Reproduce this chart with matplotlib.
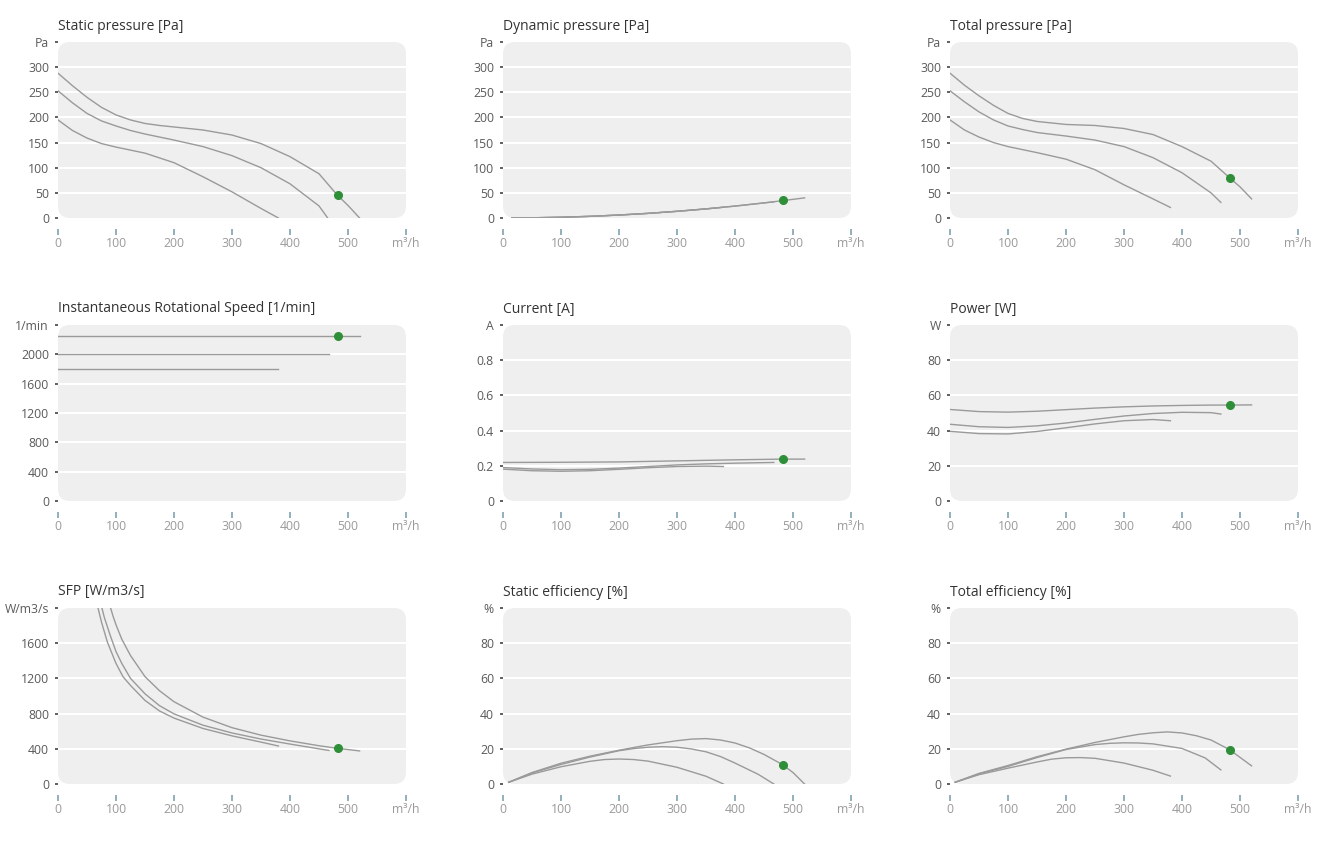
import matplotlib
matplotlib.use("Agg")
import matplotlib.pyplot as plt
from matplotlib.patches import FancyBboxPatch

plt.rcParams['font.family'] = ['Open Sans', 'DejaVu Sans']

# flow at the operating point (m3/h)
op_q = 482

# static pressure [Pa]
sp_hi_q = [0, 25, 50, 75, 100, 125, 150, 175, 200, 250, 300, 350, 400, 450, 482, 500, 520]
sp_hi_v = [288, 263, 240, 220, 205, 195, 188, 184, 181, 175, 165, 148, 122, 88, 45, 25, 0]
sp_mid_q = [0, 25, 50, 75, 100, 125, 150, 200, 250, 300, 350, 400, 450, 465]
sp_mid_v = [253, 229, 208, 193, 183, 174, 167, 155, 142, 124, 100, 68, 24, 0]
sp_lo_q = [0, 25, 50, 75, 100, 125, 150, 200, 250, 300, 350, 380]
sp_lo_v = [195, 174, 159, 148, 141, 135, 129, 110, 82, 52, 19, 0]

# dynamic pressure [Pa]
dp_hi_q = [15, 50, 100, 150, 200, 250, 300, 350, 400, 450, 482, 520]
dp_hi_v = [0.0, 0.4, 1.5, 3.3, 5.9, 9.2, 13.3, 18.1, 23.7, 30.0, 34.5, 40.0]
dp_mid_q = [15, 50, 100, 150, 200, 250, 300, 350, 400, 450, 467]
dp_mid_v = [0.0, 0.4, 1.5, 3.3, 5.9, 9.2, 13.3, 18.1, 23.7, 30.0, 32.0]
dp_lo_q = [15, 50, 100, 150, 200, 250, 300, 350, 380]
dp_lo_v = [0.0, 0.4, 1.5, 3.3, 5.9, 9.2, 13.3, 18.1, 21.4]

# total pressure [Pa]
tp_hi_q = [0, 25, 50, 75, 100, 125, 150, 200, 250, 300, 350, 400, 450, 482, 500, 520]
tp_hi_v = [288, 264, 243, 224, 208, 198, 192, 186, 184, 178, 166, 142, 113, 80, 62, 38]
tp_mid_q = [0, 25, 50, 75, 100, 125, 150, 200, 250, 300, 350, 400, 450, 467]
tp_mid_v = [253, 231, 211, 195, 183, 176, 170, 163, 155, 142, 120, 90, 50, 31]
tp_lo_q = [0, 25, 50, 75, 100, 125, 150, 200, 250, 300, 350, 380]
tp_lo_v = [195, 175, 161, 150, 142, 136, 130, 117, 96, 66, 38, 21]

# rotational speed [1/min]
rs_hi_q = [0, 520]
rs_hi_v = [2250, 2250]
rs_mid_q = [0, 467]
rs_mid_v = [2000, 2000]
rs_lo_q = [0, 380]
rs_lo_v = [1800, 1800]

# current [A]
cu_hi_q = [0, 100, 200, 300, 400, 482, 520]
cu_hi_v = [0.219, 0.220, 0.222, 0.228, 0.234, 0.238, 0.238]
cu_mid_q = [0, 50, 100, 150, 200, 250, 300, 350, 400, 467]
cu_mid_v = [0.190, 0.182, 0.178, 0.180, 0.187, 0.196, 0.205, 0.211, 0.215, 0.219]
cu_lo_q = [0, 50, 100, 150, 200, 250, 300, 350, 380]
cu_lo_v = [0.181, 0.172, 0.169, 0.172, 0.180, 0.189, 0.196, 0.198, 0.196]

# power [W]
pw_hi_q = [0, 50, 100, 150, 200, 250, 300, 350, 400, 450, 482, 520]
pw_hi_v = [52.0, 50.8, 50.5, 51.0, 51.9, 52.8, 53.5, 54.0, 54.3, 54.5, 54.5, 54.6]
pw_mid_q = [0, 50, 100, 150, 200, 250, 300, 350, 400, 450, 467]
pw_mid_v = [43.6, 42.2, 41.8, 42.7, 44.3, 46.4, 48.3, 49.7, 50.4, 50.2, 49.4]
pw_lo_q = [0, 50, 100, 150, 200, 250, 300, 350, 380]
pw_lo_v = [39.6, 38.3, 38.1, 39.5, 41.6, 43.8, 45.6, 46.3, 45.6]

# SFP [W/m3/s]
sfp_hi_q = [88, 95, 100, 110, 125, 150, 175, 200, 250, 300, 350, 400, 450, 482, 520]
sfp_hi_v = [2060, 1905, 1810, 1645, 1460, 1220, 1060, 935, 760, 640, 555, 490, 435, 405, 376]
sfp_mid_q = [73, 80, 90, 100, 110, 125, 150, 175, 200, 250, 300, 350, 400, 467]
sfp_mid_v = [2070, 1890, 1690, 1505, 1370, 1200, 1025, 890, 797, 668, 580, 511, 454, 381]
sfp_lo_q = [66, 75, 85, 100, 112, 125, 150, 175, 200, 250, 300, 350, 380]
sfp_lo_v = [2080, 1840, 1615, 1370, 1220, 1120, 950, 830, 749, 631, 547, 476, 432]

# static efficiency [%]
se_hi_q = [10, 50, 100, 150, 200, 250, 300, 325, 350, 375, 400, 425, 450, 482, 500, 520]
se_hi_v = [1, 6.5, 11.8, 15.8, 19.2, 22.2, 24.6, 25.5, 25.8, 25.0, 23.3, 20.5, 16.8, 11, 6.5, 0]
se_mid_q = [10, 50, 100, 150, 200, 225, 250, 275, 300, 325, 350, 375, 400, 440, 467]
se_mid_v = [1, 6.3, 11.1, 15.3, 18.9, 20.1, 20.9, 21.2, 20.9, 19.9, 18.3, 15.6, 11.9, 5.5, 0]
se_lo_q = [10, 50, 100, 150, 175, 200, 225, 250, 300, 350, 380]
se_lo_v = [1, 5.6, 9.8, 12.9, 13.9, 14.2, 13.9, 13.0, 9.5, 4.4, 0]

# total efficiency [%]
te_hi_q = [9, 50, 100, 150, 200, 250, 300, 325, 350, 375, 400, 425, 450, 482, 520]
te_hi_v = [1, 6, 10.5, 15.5, 19.8, 23.6, 26.8, 28.2, 29.1, 29.6, 29, 27.4, 25, 19.5, 10.3]
te_mid_q = [9, 50, 100, 150, 200, 250, 275, 300, 325, 350, 400, 440, 467]
te_mid_v = [1, 5.8, 10, 15, 19.6, 22.4, 23.1, 23.4, 23.3, 22.8, 20.2, 14.8, 8]
te_lo_q = [9, 50, 100, 150, 175, 200, 225, 250, 300, 350, 380]
te_lo_v = [1, 5.3, 9, 12.5, 14.1, 14.9, 15.0, 14.6, 11.9, 7.8, 4.5]

panels = [
    ("Static pressure [Pa]", "Pa", 350, 50,
     [(sp_hi_q, sp_hi_v), (sp_mid_q, sp_mid_v), (sp_lo_q, sp_lo_v)], 45),
    ("Dynamic pressure [Pa]", "Pa", 350, 50,
     [(dp_hi_q, dp_hi_v), (dp_mid_q, dp_mid_v), (dp_lo_q, dp_lo_v)], 35),
    ("Total pressure [Pa]", "Pa", 350, 50,
     [(tp_hi_q, tp_hi_v), (tp_mid_q, tp_mid_v), (tp_lo_q, tp_lo_v)], 80),
    ("Instantaneous Rotational Speed [1/min]", "1/min", 2400, 400,
     [(rs_hi_q, rs_hi_v), (rs_mid_q, rs_mid_v), (rs_lo_q, rs_lo_v)], 2250),
    ("Current [A]", "A", 1.0, 0.2,
     [(cu_hi_q, cu_hi_v), (cu_mid_q, cu_mid_v), (cu_lo_q, cu_lo_v)], 0.238),
    ("Power [W]", "W", 100, 20,
     [(pw_hi_q, pw_hi_v), (pw_mid_q, pw_mid_v), (pw_lo_q, pw_lo_v)], 54.5),
    ("SFP [W/m3/s]", "W/m3/s", 2000, 400,
     [(sfp_hi_q, sfp_hi_v), (sfp_mid_q, sfp_mid_v), (sfp_lo_q, sfp_lo_v)], 405),
    ("Static efficiency [%]", "%", 100, 20,
     [(se_hi_q, se_hi_v), (se_mid_q, se_mid_v), (se_lo_q, se_lo_v)], 11),
    ("Total efficiency [%]", "%", 100, 20,
     [(te_hi_q, te_hi_v), (te_mid_q, te_mid_v), (te_lo_q, te_lo_v)], 19.5),
]

x_ticks = [0, 100, 200, 300, 400, 500, 600]
x_labels = ["0", "100", "200", "300", "400", "500", "m³/h"]

W, H = 1331, 859
fig = plt.figure(figsize=(W / 100, H / 100), dpi=100)
fig.patch.set_facecolor("white")

lefts = [58, 503, 950]
tops = [42, 325, 608]
aw, ah = 348, 176

for i, (title, unit, ytop, ystep, curves, op_v) in enumerate(panels):
    r, c = divmod(i, 3)
    ax = fig.add_axes([lefts[c] / W, (H - tops[r] - ah) / H, aw / W, ah / H])
    ax.patch.set_visible(False)
    ax.set_xlim(0, 600)
    ax.set_ylim(0, ytop)

    # rounded grey background
    bg = FancyBboxPatch((0, 0), 1, 1, boxstyle="round,pad=0,rounding_size=0.035",
                        mutation_aspect=aw / ah, transform=ax.transAxes,
                        facecolor="#efefef", edgecolor="none", zorder=0.5,
                        clip_on=False)
    ax.add_patch(bg)

    n = int(round(ytop / ystep))
    yt = [k * ystep for k in range(n + 1)]
    for y in yt[1:-1]:
        ax.axhline(y, color="white", lw=1.5, zorder=1)

    for q, v in curves:
        ax.plot(q, v, color="#9a9a9a", lw=1.0, zorder=2)
    ax.plot([op_q], [op_v], "o", color="#2f8f38", ms=5.5, zorder=3)

    ylabels = []
    for y in yt[:-1]:
        if ystep < 1:
            ylabels.append(f"{y:.1f}" if y > 0 else "0")
        else:
            ylabels.append(f"{int(round(y))}")
    ylabels.append(unit)
    ax.set_yticks(yt)
    ax.set_yticklabels(ylabels)
    ax.set_xticks(x_ticks)
    ax.set_xticklabels(x_labels)

    for s in ["top", "right", "left"]:
        ax.spines[s].set_visible(False)
    ax.spines["bottom"].set_position(("outward", 8))
    ax.spines["bottom"].set_visible(False)

    ax.tick_params(axis="x", length=4, width=1.2, color="#7fa2b0", pad=2,
                   labelsize=8.8, labelcolor="#9a9a9a")
    ax.tick_params(axis="y", length=2.5, width=1.2, color="#444444", pad=4,
                   labelsize=8.8, labelcolor="#5a5a5a")

    ax.set_title(title, loc="left", fontsize=10, color="#333333", pad=9)

fig.savefig("out.png", dpi=100)
